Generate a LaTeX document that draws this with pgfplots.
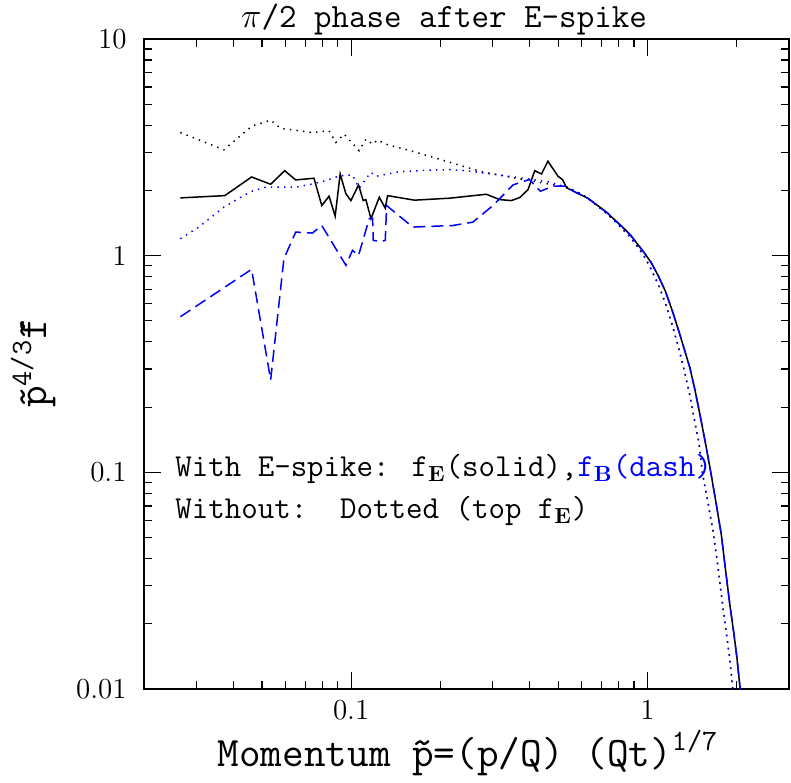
\documentclass[border=0pt]{standalone}
\usepackage{pgfplots}
\pgfplotsset{compat=1.18}
\begin{document}
\begin{tikzpicture}
\useasboundingbox (-72pt,-46.5pt) rectangle (323.5pt,344.5pt);
\begin{axis}[name=ax, at={(0,0)}, anchor=south west,
  xmode=log, ymode=log, scale only axis, width=322.5pt, height=325pt,
  xmin=0.02, xmax=3, ymin=0.01, ymax=10,
  xtick={0.1,1}, xticklabels={0.1,1},
  ytick={0.01,0.1,1,10}, yticklabels={0.01,0.1,1,10},
  minor xtick={0.03,0.04,0.05,0.06,0.07,0.08,0.09,0.2,0.3,0.4,0.5,0.6,0.7,0.8,0.9,2},
  minor ytick={0.02,0.03,0.04,0.05,0.06,0.07,0.08,0.09,0.2,0.3,0.4,0.5,0.6,0.7,0.8,0.9,2,3,4,5,6,7,8,9},
  tick align=inside, major tick length=8.5pt, minor tick length=4pt,
  every tick/.style={black, line width=0.6pt},
  axis line style={line width=1.2pt},
  xticklabel style={font=\fontsize{14.5}{14.5}\selectfont, inner sep=0pt, yshift=-5.5pt},
  yticklabel style={font=\fontsize{14.5}{14.5}\selectfont, inner sep=0pt, xshift=-8.5pt},
  clip=true,
]
% black dotted: f_E without spike
\addplot[black, line width=0.75pt, dash pattern=on 0.7pt off 2.6pt] coordinates {
(0.02653,3.70) (0.0372,3.08) (0.0463,3.97) (0.0535,4.22) (0.0578,3.87)
(0.0740,3.70) (0.0842,3.77) (0.0888,3.33) (0.0947,3.64) (0.1064,3.05)
(0.1121,3.45) (0.1181,3.27) (0.1227,3.42) (0.1310,3.27) (0.1656,3.00)
(0.2146,2.70) (0.2782,2.43) (0.4003,2.22) (0.535,2.07)
(0.60,1.92) (0.629,1.84) (0.68,1.69) (0.73,1.56) (0.78,1.43) (0.83,1.31)
(0.873,1.22) (0.93,1.09) (0.98,0.98) (1.03,0.86) (1.09,0.73) (1.15,0.60)
(1.21,0.48) (1.27,0.38) (1.33,0.295) (1.39,0.225) (1.43,0.182) (1.49,0.137)
(1.53,0.100) (1.60,0.072) (1.67,0.0516) (1.73,0.036) (1.79,0.0246)
(1.84,0.0185) (1.89,0.0141) (1.935,0.0103) (1.945,0.0095)
};
% blue dotted: f_B without spike
\addplot[blue, line width=0.75pt, dash pattern=on 0.7pt off 2.6pt] coordinates {
(0.02653,1.197) (0.03059,1.355) (0.0372,1.675) (0.04577,1.975) (0.05144,2.070)
(0.0650,2.070) (0.0740,2.143) (0.0821,2.220) (0.0918,2.340) (0.1010,2.357)
(0.1064,2.048) (0.1121,2.26) (0.1166,2.426) (0.1212,2.325) (0.1453,2.441)
(0.1884,2.486) (0.2146,2.494) (0.2444,2.467) (0.3168,2.357) (0.4107,2.243)
(0.4677,2.183) (0.535,2.07)
(0.60,1.92) (0.629,1.84) (0.68,1.69) (0.73,1.56) (0.78,1.43) (0.83,1.31)
(0.873,1.22) (0.93,1.09) (0.98,0.98) (1.03,0.86) (1.09,0.73) (1.15,0.60)
(1.21,0.48) (1.27,0.38) (1.33,0.295) (1.39,0.225) (1.43,0.182) (1.49,0.137)
(1.53,0.100) (1.60,0.072) (1.67,0.0516) (1.73,0.036) (1.79,0.0246)
(1.84,0.0185) (1.89,0.0141) (1.935,0.0103) (1.945,0.0095)
};
% black solid: f_E with spike
\addplot[black, line width=0.75pt] coordinates {
(0.02653,1.848) (0.03747,1.893) (0.04613,2.308) (0.0535,2.136) (0.05965,2.467)
(0.0650,2.236) (0.0749,2.277) (0.0796,1.703) (0.0842,1.881) (0.0883,1.522)
(0.0918,2.382) (0.0960,1.928) (0.0998,1.796) (0.1059,2.121) (0.1098,1.796)
(0.1121,1.815) (0.1166,1.480) (0.1244,1.862) (0.1303,1.657) (0.1327,1.893)
(0.1634,1.804) (0.2146,1.842) (0.2856,1.921) (0.3168,1.815) (0.3471,1.796)
(0.3703,1.854) (0.3951,2.018) (0.4163,2.467) (0.4385,2.382) (0.461,2.73)
(0.4985,2.327) (0.5159,2.247) (0.5336,2.056) (0.562,1.984)
(0.60,1.90) (0.629,1.84) (0.68,1.70) (0.73,1.58) (0.78,1.45) (0.83,1.34)
(0.873,1.25) (0.93,1.12) (0.98,1.02) (1.028,0.93) (1.085,0.81) (1.146,0.69)
(1.21,0.56) (1.278,0.443) (1.33,0.37) (1.387,0.306) (1.445,0.24) (1.505,0.182)
(1.57,0.135) (1.634,0.100) (1.70,0.073) (1.773,0.0516) (1.83,0.036)
(1.894,0.0246) (1.95,0.0185) (2.0,0.0141) (2.048,0.0103) (2.06,0.0095)
};
% blue dashed: f_B with spike
\addplot[blue, line width=0.75pt, dash pattern=on 6pt off 3pt] coordinates {
(0.02653,0.5225) (0.04613,0.865) (0.0535,0.267) (0.0593,0.969) (0.0650,1.285)
(0.0740,1.272) (0.0796,1.378) (0.0960,0.902) (0.1010,1.058) (0.1059,1.003)
(0.1150,1.48) (0.1181,1.49) (0.1187,1.176) (0.1260,1.163) (0.1303,1.176)
(0.1317,1.703) (0.1613,1.355) (0.2202,1.378) (0.2573,1.428) (0.3007,1.703)
(0.3516,2.121) (0.3993,2.247) (0.4346,1.984) (0.4819,2.094) (0.534,2.094)
(0.562,1.984)
(0.60,1.90) (0.629,1.84) (0.68,1.70) (0.73,1.58) (0.78,1.45) (0.83,1.34)
(0.873,1.25) (0.93,1.12) (0.98,1.02) (1.028,0.93) (1.085,0.81) (1.146,0.69)
(1.21,0.56) (1.278,0.443) (1.33,0.37) (1.387,0.306) (1.445,0.24) (1.505,0.182)
(1.57,0.135) (1.634,0.100) (1.70,0.073) (1.773,0.0516) (1.83,0.036)
(1.894,0.0246) (1.95,0.0185) (2.0,0.0141) (2.048,0.0103) (2.06,0.0095)
};
\end{axis}
\node[anchor=base, font=\ttfamily\fontsize{17}{17}\selectfont, inner sep=0pt] at (150pt,330.5pt) {$\pi$/2 phase after E-spike};
\node[anchor=base, font=\ttfamily\fontsize{21}{21}\selectfont, inner sep=0pt] at (162pt,-38.5pt) {Momentum \~{p}=(p/Q) (Qt)\textsuperscript{1/7}};
\node[rotate=90, font=\ttfamily\fontsize{21}{21}\selectfont, inner sep=0pt] at (-55.5pt,163pt) {\~{p}\textsuperscript{4/3}\~{f}};
\node[anchor=base west, font=\ttfamily\fontsize{16}{16}\selectfont, inner sep=0pt] at (15.5pt,106.5pt) {With E-spike: f$_{\mathbf{E}}$(solid),\textcolor{blue}{f$_{\mathbf{B}}$(dash)}};
\node[anchor=base west, font=\ttfamily\fontsize{16}{16}\selectfont, inner sep=0pt] at (15.5pt,85.5pt) {Without:\ \ Dotted (top f$_{\mathbf{E}}$)};
\end{tikzpicture}
\end{document}
